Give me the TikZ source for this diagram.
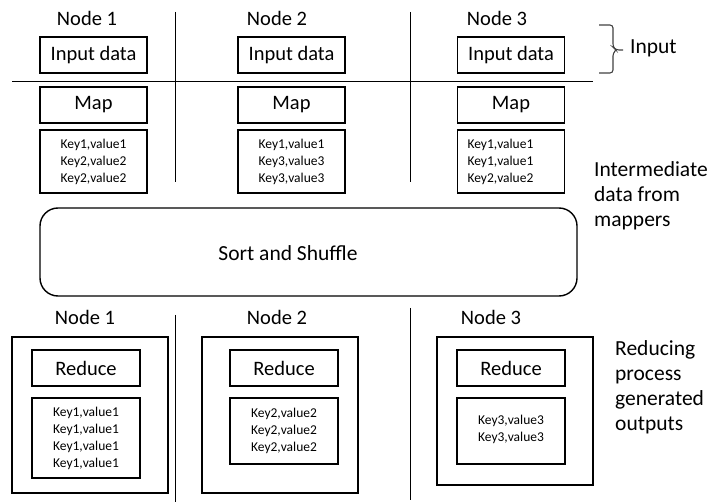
\documentclass[tikz,border=0pt]{standalone}
\usepackage{fontspec}
\setmainfont{Carlito}
\tikzset{
  lbl/.style={inner sep=0pt, font=\fontsize{20.5}{24.5}\selectfont},
  side/.style={inner sep=0pt, anchor=west, align=left, font=\fontsize{21.5}{25}\selectfont},
  stage/.style={draw, line width=1.8pt, inner sep=0pt, minimum width=107pt, minimum height=36pt,
                font=\fontsize{20.5}{24.5}\selectfont},
  kvbox/.style={draw, line width=1.8pt, inner sep=0pt, minimum width=107pt, align=center,
                font=\fontsize{13.5}{17}\selectfont},
  outer/.style={draw, line width=1.8pt, inner sep=0pt, minimum width=156pt},
  sep/.style={line width=0.9pt},
  bracket/.style={line width=1.1pt, draw=black!75, rounded corners=3pt},
}
\begin{document}
\begin{tikzpicture}[x=1pt, y=-1pt]
\useasboundingbox (0,0) rectangle (712,502);

% ---- map phase: node headers
\node[lbl] (n1) at (87,18) {Node 1};
\node[lbl] (n2) at (277,18) {Node 2};
\node[lbl] (n3) at (497,18) {Node 3};

% input blocks
\node[stage] (in1) at (93.5,55) {Input data};
\node[stage] (in2) at (291.5,55) {Input data};
\node[stage] (in3) at (511,55) {Input data};

% map blocks
\node[stage] (map1) at (93.5,105) {Map};
\node[stage] (map2) at (291.5,105) {Map};
\node[stage] (map3) at (511,105) {Map};

% intermediate key/value pairs
\node[kvbox, minimum height=63pt] (kv1) at (93.5,161.5) {Key1,value1\\Key2,value2\\Key2,value2};
\node[kvbox, minimum height=63pt] (kv2) at (291.5,161.5) {Key1,value1\\Key3,value3\\Key3,value3};
\node[kvbox, minimum height=63pt, align=left, text width=87pt, inner xsep=10pt] (kv3) at (511,161.5)
  {Key1,value1\\Key1,value1\\Key2,value2};

% separators between the mapper nodes
\coordinate (va1) at (175,12);  \coordinate (vb1) at (175,182);
\coordinate (va2) at (410,12);  \coordinate (vb2) at (410,182);
\coordinate (ha) at (12,81);    \coordinate (hb) at (593,81);
\draw[sep] (va1) -- (vb1);
\draw[sep] (va2) -- (vb2);
\draw[sep] (ha) -- (hb);

% input bracket and labels on the right
\coordinate (bt) at (599,25);
\coordinate (bb) at (599,73);
\coordinate (btip) at (623,50);
\draw[bracket] (bt) -| (613,47) -- (616,50) -- (btip);
\draw[bracket] (bb) -| (613,53) -- (616,50);
\node[side] (inlbl) at (630,48) {Input};
\node[side, anchor=north west] (midlbl) at (594,161) {Intermediate\\data from\\mappers};

% shuffle stage
\node[draw, line width=1.4pt, rounded corners=18pt, minimum width=537pt, minimum height=88pt,
      inner sep=0pt] (shuffle) at (308.5,252) {};
\node[inner sep=0pt, font=\fontsize{21.5}{25}\selectfont] (shuftxt) at (288,253) {Sort and Shuffle};

% ---- reduce phase: node headers
\node[lbl] (r1) at (85,317) {Node 1};
\node[lbl] (r2) at (277,317) {Node 2};
\node[lbl] (r3) at (491,317) {Node 3};

% node containers
\node[outer, minimum height=156pt] (o1) at (90,415) {};
\node[outer, minimum height=156pt] (o2) at (280,415) {};
\node[outer, minimum height=148pt] (o3) at (515,411) {};

% reduce blocks
\node[stage, minimum width=108pt] (red1) at (86,368) {Reduce};
\node[stage, minimum width=108pt] (red2) at (284,368) {Reduce};
\node[stage, minimum width=108pt] (red3) at (511,368) {Reduce};

% reduced outputs
\node[kvbox, minimum width=108pt, minimum height=80pt] (out1) at (86,438)
  {Key1,value1\\Key1,value1\\Key1,value1\\Key1,value1};
\node[kvbox, minimum width=108pt, minimum height=66pt] (out2) at (284,431)
  {Key2,value2\\Key2,value2\\Key2,value2};
\node[kvbox, minimum width=108pt, minimum height=66pt] (out3) at (511,431)
  {\\[-11pt]Key3,value3\\Key3,value3};

% separators between the reducer nodes
\coordinate (vc1) at (175,315); \coordinate (vd1) at (175,502);
\coordinate (vc2) at (410,308); \coordinate (vd2) at (410,500);
\draw[sep] (vc1) -- (vd1);
\draw[sep] (vc2) -- (vd2);

\node[side, anchor=north west] (redlbl) at (615,340) {Reducing\\process\\generated\\outputs};
\end{tikzpicture}
\end{document}
